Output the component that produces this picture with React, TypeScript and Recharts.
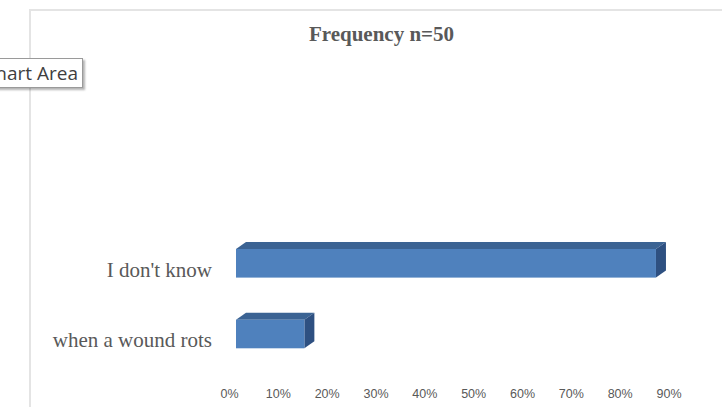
import React from 'react';
import { BarChart, Bar, XAxis, YAxis } from 'recharts';

const CATEGORIES = ["I don't know", 'when a wound rots'];
const VALUES = [0.86, 0.14];
const TICKS = [0, 0.1, 0.2, 0.3, 0.4, 0.5, 0.6, 0.7, 0.8, 0.9];

const DATA = CATEGORIES.map((name, i) => ({ name, value: VALUES[i] }));

const TEXT = '#595959';
const FRONT = '#4F81BD';
const TOP = '#3B6393';
const SIDE = '#2E5081';
const DEPTH_X = 10;
const DEPTH_Y = 7;

// 3D-looking bar: front face + top + right side
function Bar3D(props: any) {
    const { x, y, width, height } = props;
    if (width == null || height == null) return null;
    const top = `${x},${y} ${x + DEPTH_X},${y - DEPTH_Y} ${x + width + DEPTH_X},${y - DEPTH_Y} ${x + width},${y}`;
    const side = `${x + width},${y} ${x + width + DEPTH_X},${y - DEPTH_Y} ${x + width + DEPTH_X},${y + height - DEPTH_Y} ${x + width},${y + height}`;
    return (
        <g>
            <polygon points={top} fill={TOP} />
            <polygon points={side} fill={SIDE} />
            <rect x={x} y={y} width={width} height={height} fill={FRONT} />
        </g>
    );
}

function CategoryTick(props: any) {
    const { x, y, payload } = props;
    return (
        <text x={x} y={y} dy={13.3} textAnchor="end" fill={TEXT}
            style={{ fontFamily: '"Liberation Serif", serif', fontSize: 21 }}>
            {payload.value}
        </text>
    );
}

function PercentTick(props: any) {
    const { x, y, payload } = props;
    return (
        <text x={x} y={y} dx={-6.5} dy={28.6} textAnchor="middle" fill={TEXT}
            style={{ fontFamily: '"Liberation Sans", sans-serif', fontSize: 12.5 }}>
            {`${Math.round(payload.value * 100)}%`}
        </text>
    );
}

export default function App() {
    return (
        <div style={{ position: 'absolute', left: 0, top: 0, width: 722, height: 407, background: '#fff', overflow: 'hidden' }}>
            {/* chart area border */}
            <div style={{ position: 'absolute', left: 29, top: 9, width: 722, height: 420, borderLeft: '2px solid #e4e4e4', borderTop: '2px solid #e4e4e4' }} />
            <div style={{ position: 'absolute', left: 41, top: 24, width: 681, textAlign: 'center', fontFamily: '"Liberation Serif", serif', fontWeight: 700, fontSize: 21, lineHeight: '21px', color: TEXT }}>
                Frequency n=50
            </div>
            <div style={{ position: 'absolute', left: 0, top: 0 }}>
                <BarChart width={722} height={407} data={DATA} layout="vertical" barSize={28.6}
                    margin={{ top: 228, right: 46.5, left: 36, bottom: 7.6 }}>
                    <XAxis type="number" domain={[0, 0.9]} ticks={TICKS} height={30}
                        axisLine={false} tickLine={false} tickSize={0} tickMargin={0}
                        tick={<PercentTick />} interval={0} />
                    <YAxis type="category" dataKey="name" width={200}
                        axisLine={false} tickLine={false} tickSize={0} tickMargin={24}
                        tick={<CategoryTick />} interval={0} />
                    <Bar dataKey="value" isAnimationActive={false} shape={<Bar3D />} />
                </BarChart>
            </div>
            {/* hover label left over from the screenshot, clipped at the page edge like the original */}
            <div style={{ position: 'absolute', left: -10, top: 58, width: 91, height: 28, border: '1px solid #9a9a9a', background: '#fff', boxShadow: '2px 2px 2px rgba(0,0,0,0.3)', overflow: 'hidden' }}>
                <span style={{ position: 'absolute', right: 4, top: 0, whiteSpace: 'nowrap', fontFamily: '"Open Sans", sans-serif', fontSize: 19, lineHeight: '28px', color: '#3f3f3f' }}>
                    Chart Area
                </span>
            </div>
        </div>
    );
}
